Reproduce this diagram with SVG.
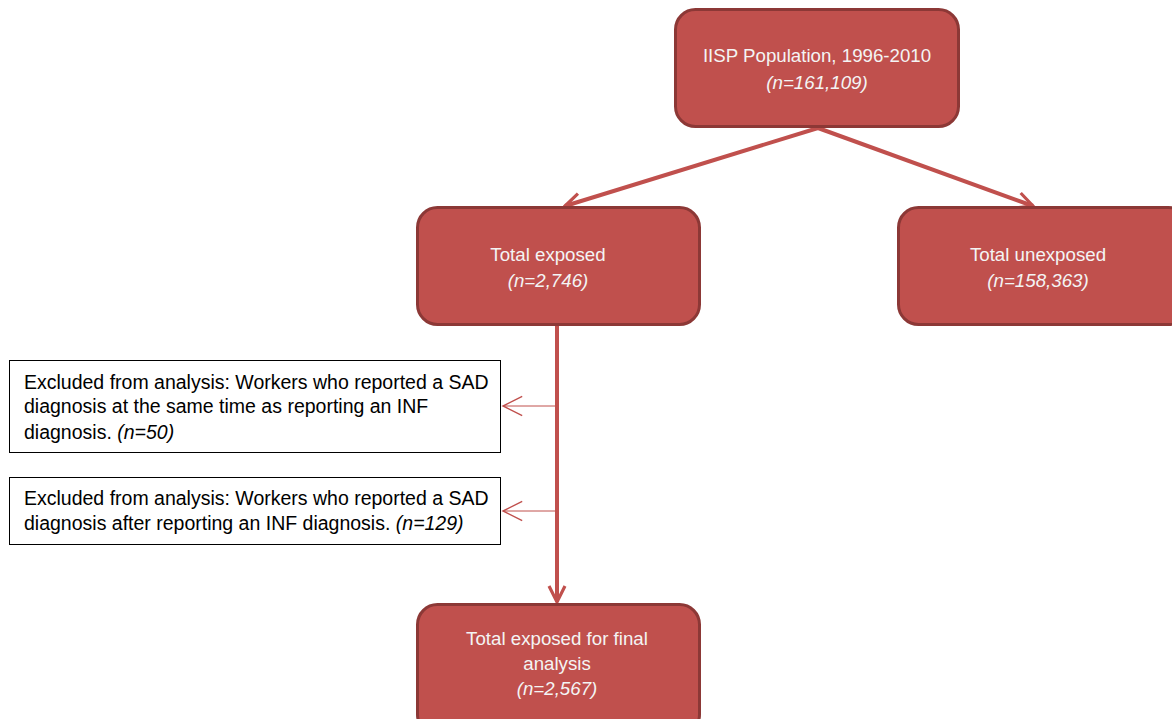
<svg xmlns="http://www.w3.org/2000/svg" width="1172" height="719" viewBox="0 0 1172 719">
<style>
.node{fill:#C0504D;stroke:#8C3836;stroke-width:3}
.nt{font-family:"Liberation Sans",Arial,sans-serif;font-size:18.7px;fill:#F4F4F4;text-anchor:middle}
.it{font-style:italic}
.ex{fill:#fff;stroke:#000;stroke-width:1}
.et{font-family:"Liberation Sans",Arial,sans-serif;font-size:19.5px;fill:#000}
.thick{stroke:#C0504D;stroke-width:4;fill:none}
.thin{stroke:#C0504D;stroke-width:1;fill:none}
</style>
<defs>
<marker id="ah" viewBox="0 0 10 10" refX="9" refY="5" markerWidth="5" markerHeight="5" orient="auto" markerUnits="strokeWidth">
<path d="M1,1 L9,5 L1,9" fill="none" stroke="#C0504D" stroke-width="1.6"/>
</marker>
<marker id="ahs" viewBox="0 0 10 10" refX="9" refY="5" markerWidth="24" markerHeight="24" orient="auto" markerUnits="userSpaceOnUse">
<path d="M1,1 L9,5 L1,9" fill="none" stroke="#C0504D" stroke-width="0.6"/>
</marker>
</defs>
<g id="connectors">
<line class="thick" x1="818" y1="128" x2="565" y2="206" marker-end="url(#ah)"/>
<line class="thick" x1="818" y1="128" x2="1033" y2="206" marker-end="url(#ah)"/>
<line class="thick" x1="557" y1="325" x2="557" y2="602" marker-end="url(#ah)"/>
<line class="thin" x1="557" y1="406" x2="503" y2="406" marker-end="url(#ahs)"/>
<line class="thin" x1="557" y1="511" x2="503" y2="511" marker-end="url(#ahs)"/>
</g>
<g id="n-population">
<rect class="node" x="675.5" y="9.5" width="283" height="117" rx="20"/>
<text class="nt" x="817" y="62">IISP Population, 1996-2010</text>
<text class="nt it" x="817" y="89">(n=161,109)</text>
</g>
<g id="n-exposed">
<rect class="node" x="417.5" y="207.5" width="282" height="117" rx="20"/>
<text class="nt" x="548" y="261">Total exposed</text>
<text class="nt it" x="548" y="287">(n=2,746)</text>
</g>
<g id="n-unexposed">
<rect class="node" x="898.5" y="207.5" width="290" height="117" rx="20"/>
<text class="nt" x="1038" y="261">Total unexposed</text>
<text class="nt it" x="1038" y="287">(n=158,363)</text>
</g>
<g id="n-final">
<rect class="node" x="417.5" y="604.5" width="282" height="130" rx="20"/>
<text class="nt" x="557" y="645">Total exposed for final</text>
<text class="nt" x="557" y="670">analysis</text>
<text class="nt it" x="557" y="695">(n=2,567)</text>
</g>
<g id="n-excl1">
<rect class="ex" x="9.5" y="360.5" width="491" height="92"/>
<text class="et" x="24" y="389">Excluded from analysis: Workers who reported a SAD</text>
<text class="et" x="24" y="413">diagnosis at the same time as reporting an INF</text>
<text class="et" x="24" y="439">diagnosis. <tspan class="it">(n=50)</tspan></text>
</g>
<g id="n-excl2">
<rect class="ex" x="9.5" y="477.5" width="491" height="67"/>
<text class="et" x="24" y="505">Excluded from analysis: Workers who reported a SAD</text>
<text class="et" x="24" y="530">diagnosis after reporting an INF diagnosis. <tspan class="it">(n=129)</tspan></text>
</g>
</svg>
